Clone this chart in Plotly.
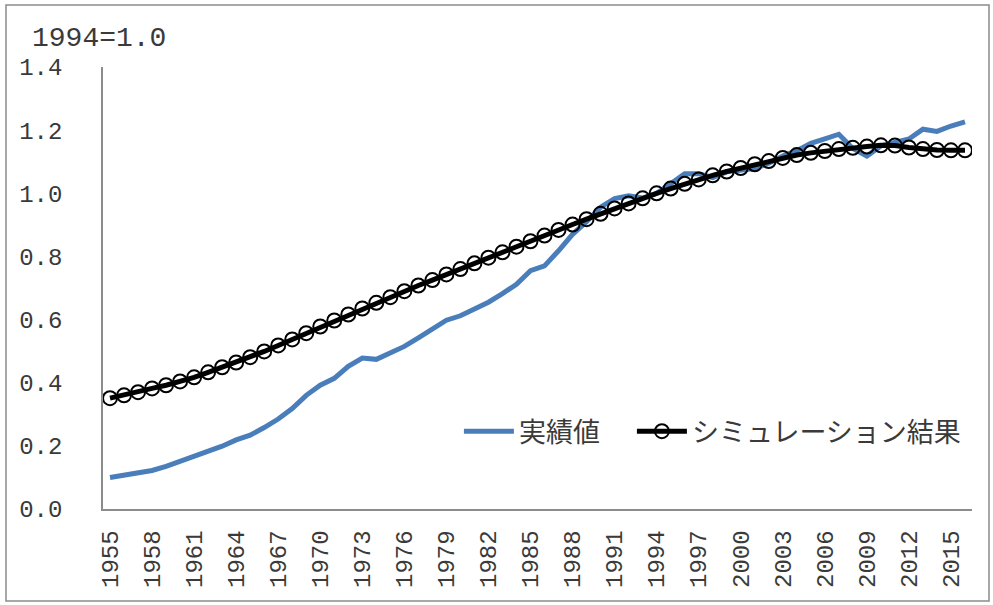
import plotly.graph_objects as go

years = list(range(1955, 2017))

actual = [
    0.100, 0.106, 0.114, 0.122, 0.135, 0.150, 0.166, 0.180, 0.199, 0.219,
    0.234, 0.258, 0.285, 0.318, 0.360, 0.392, 0.414, 0.452, 0.478, 0.474,
    0.495, 0.515, 0.542, 0.572, 0.598, 0.612, 0.633, 0.655, 0.682, 0.712,
    0.755, 0.770, 0.818, 0.870, 0.910, 0.956, 0.983, 0.992, 0.985, 1.000,
    1.030, 1.062, 1.062, 1.050, 1.068, 1.075, 1.078, 1.095, 1.118, 1.135,
    1.158, 1.172, 1.187, 1.142, 1.118, 1.150, 1.160, 1.172, 1.203, 1.196,
    1.213, 1.226,
]

simulated = [
    0.351, 0.360, 0.370, 0.382, 0.392, 0.404, 0.417, 0.433, 0.449, 0.464,
    0.481, 0.499, 0.518, 0.537, 0.557, 0.578, 0.597, 0.616, 0.635, 0.653,
    0.671, 0.690, 0.708, 0.725, 0.743, 0.760, 0.778, 0.796, 0.813, 0.831,
    0.848, 0.866, 0.884, 0.901, 0.918, 0.935, 0.952, 0.968, 0.984, 1.000,
    1.015, 1.030, 1.044, 1.057, 1.069, 1.080, 1.092, 1.102, 1.112, 1.121,
    1.128, 1.134, 1.140, 1.144, 1.148, 1.152, 1.151, 1.145, 1.140, 1.137,
    1.136, 1.136,
]

x_ticks = list(range(1955, 2017, 3))
y_ticks = [0.0, 0.2, 0.4, 0.6, 0.8, 1.0, 1.2, 1.4]
y_ticktext = [f"{v:.1f}" for v in y_ticks]

mono = "Liberation Mono, DejaVu Sans Mono, monospace"
jp = "Noto Sans CJK JP, sans-serif"
axis_grey = "#8c8c8c"
text_col = "#3a3a3a"

fig = go.Figure()
fig.add_trace(go.Scatter(
    x=years, y=actual, name="実績値\u3000", mode="lines",
    line=dict(color="#4a7ebb", width=5),
))
fig.add_trace(go.Scatter(
    x=years, y=simulated, name="シミュレーション結果", mode="lines+markers",
    line=dict(color="#000000", width=5),
    marker=dict(symbol="circle-open", size=14, color="#000000",
                line=dict(width=2, color="#000000")),
))

fig.update_layout(
    width=993, height=605,
    margin=dict(l=103, r=21, t=67, b=96),
    paper_bgcolor="white", plot_bgcolor="white",
    font=dict(family=mono, size=24, color=text_col),
    showlegend=True,
    legend=dict(
        orientation="h", x=0.993, xanchor="right", y=0.175, yanchor="middle",
        font=dict(family=jp, size=27, color=text_col),
        bgcolor="rgba(0,0,0,0)", itemwidth=50, tracegroupgap=0,
    ),
    xaxis=dict(
        range=[1954.5, 2016.5], tickmode="array", tickvals=x_ticks,
        ticktext=[str(y) for y in x_ticks], tickangle=-90,
        showgrid=False, zeroline=False, showline=True,
        linecolor=axis_grey, linewidth=1.5, ticks="",
        ticklabelstandoff=10,
    ),
    yaxis=dict(
        range=[0, 1.4], tickmode="array", tickvals=y_ticks, ticktext=y_ticktext,
        showgrid=False, zeroline=False, showline=True,
        linecolor=axis_grey, linewidth=1.5, ticks="",
        ticklabelstandoff=34,
    ),
    annotations=[dict(
        text="1994=1.0", xref="paper", yref="paper",
        x=(30 - 103) / 869, y=(509 - 38) / 442,
        xanchor="left", yanchor="middle", showarrow=False,
        font=dict(family=mono, size=28, color=text_col),
    )],
    shapes=[dict(
        type="rect", xref="paper", yref="paper",
        x0=(6 - 103) / 869, x1=(989 - 103) / 869,
        y0=(509 - 601) / 442, y1=(509 - 5) / 442,
        line=dict(color="#8c8c8c", width=1.5), fillcolor="rgba(0,0,0,0)",
        layer="below",
    )],
)

fig.write_html("out.html")
